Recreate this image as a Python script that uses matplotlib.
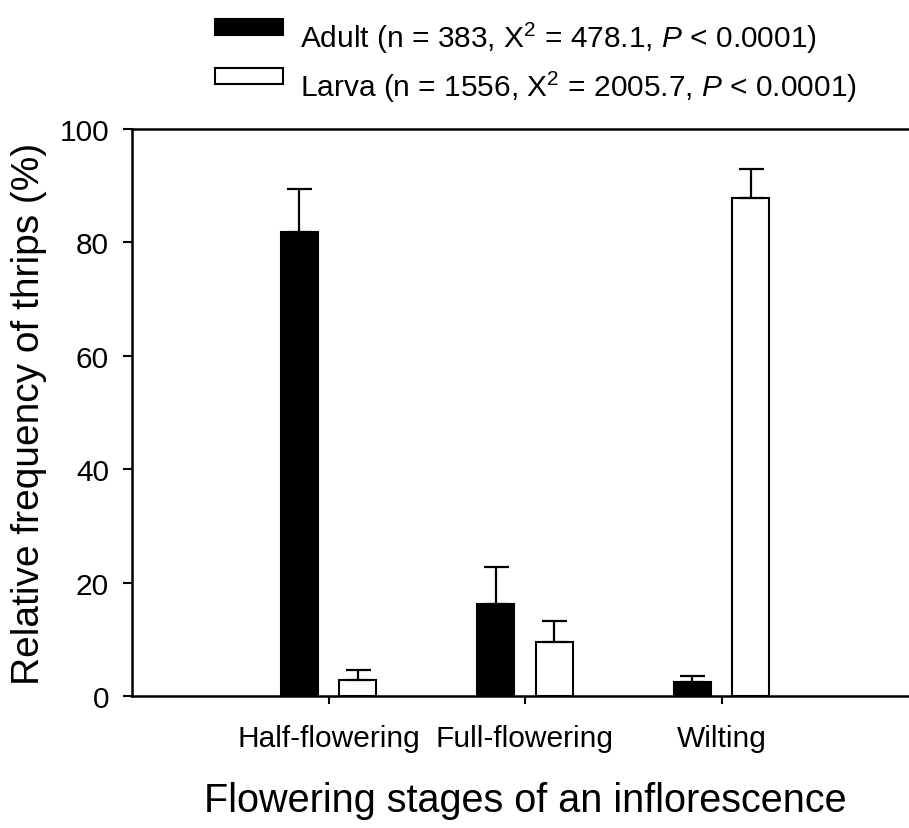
import numpy as np
import matplotlib
matplotlib.use("Agg")
import matplotlib.pyplot as plt
from matplotlib.patches import Rectangle

plt.rcParams['font.family'] = ['Liberation Sans', 'DejaVu Sans']
plt.rcParams['mathtext.fontset'] = 'custom'
plt.rcParams['mathtext.rm'] = 'Liberation Sans'
plt.rcParams['mathtext.it'] = 'Liberation Sans:italic'

# data
stages = ['Half-flowering', 'Full-flowering', 'Wilting']
adult = [81.9, 16.2, 2.4]
adult_err = [7.6, 6.6, 1.2]
larva = [2.8, 9.5, 87.9]
larva_err = [1.7, 3.8, 5.0]
legend_labels = [r'Adult (n = 383, X$^2$ = 478.1, $\it{P}$ < 0.0001)',
                 r'Larva (n = 1556, X$^2$ = 2005.7, $\it{P}$ < 0.0001)']
legend_colors = ['black', 'white']
yticks = [0, 20, 40, 60, 80, 100]

W, H = 909, 829
fig = plt.figure(figsize=(W / 100, H / 100), dpi=100)
ax = fig.add_axes([132 / W, 1 - 697 / H, 786 / W, 567 / H])

x = np.arange(1, len(stages) + 1)
w = 0.19
off = 0.149
ekw = dict(elinewidth=1.6, capthick=1.6, capsize=9, ecolor='black')
ax.bar(x - off, adult, w, color='black', edgecolor='black', linewidth=1.5,
       yerr=[np.zeros(3), adult_err], error_kw=ekw, zorder=2)
ax.bar(x + off, larva, w, color='white', edgecolor='black', linewidth=1.5,
       yerr=[np.zeros(3), larva_err], error_kw=ekw, zorder=2)

ax.set_xlim(0, 4)
ax.set_ylim(0, 100)
ax.set_yticks(yticks)
ax.set_xticks(x)
ax.set_xticklabels(stages)
ax.tick_params(axis='y', direction='out', length=6.5, width=1.5, labelsize=21.5, pad=10)
ax.tick_params(axis='x', direction='out', length=6, width=1.5, labelsize=21.5, pad=14)
for s in ['left', 'top', 'bottom']:
    ax.spines[s].set_linewidth(1.8)
ax.spines['right'].set_visible(False)

ax.set_ylabel('Relative frequency of thrips (%)', fontsize=28, labelpad=9)
ax.set_xlabel('Flowering stages of an inflorescence', fontsize=28.5, labelpad=21)

# legend drawn by hand: box at top-left of the text line
for i, (lab, col) in enumerate(zip(legend_labels, legend_colors)):
    top = 20 + i * 49
    fig.add_artist(Rectangle((215 / W, 1 - (top + 16) / H), 68 / W, 16 / H,
                             transform=fig.transFigure, facecolor=col,
                             edgecolor='black', linewidth=1.5))
    fig.text(300 / W, 1 - (top + 28) / H, lab, fontsize=21.5, ha='left',
             va='baseline')

fig.savefig('out.png', dpi=100)
